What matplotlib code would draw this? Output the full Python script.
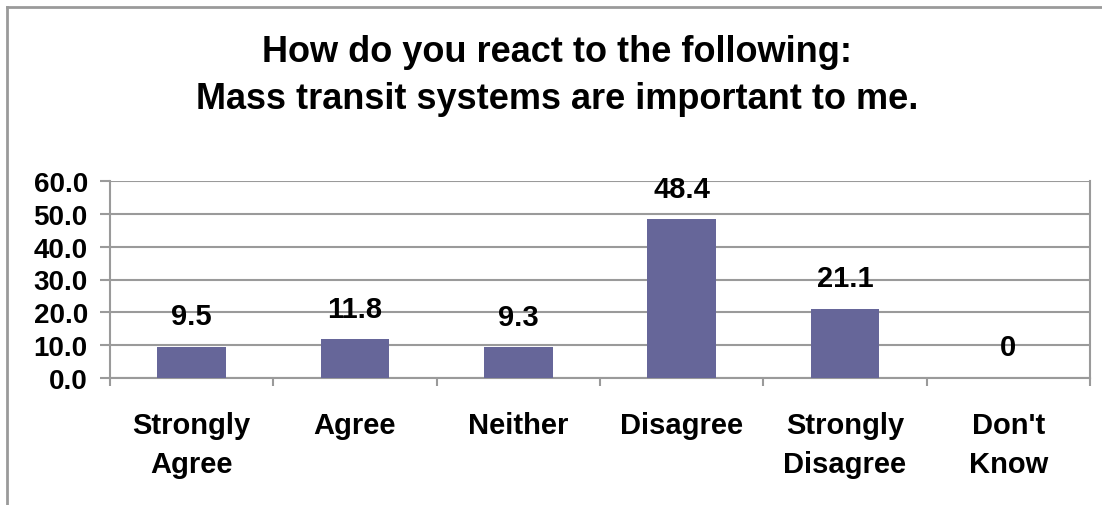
import matplotlib
matplotlib.use("Agg")
import matplotlib.pyplot as plt
from matplotlib.lines import Line2D

categories = ["Strongly\nAgree", "Agree", "Neither", "Disagree", "Strongly\nDisagree", "Don't\nKnow"]
values = [9.5, 11.8, 9.3, 48.4, 21.1, 0]
value_labels = ["9.5", "11.8", "9.3", "48.4", "21.1", "0"]
yticks = [0, 10, 20, 30, 40, 50, 60]
title = "How do you react to the following:\nMass transit systems are important to me."

plt.rcParams['font.family'] = ['Liberation Sans', 'DejaVu Sans']

W, H = 1102, 506
fig = plt.figure(figsize=(W / 100, H / 100), dpi=100)
ax = fig.add_axes([110 / W, 1 - 379 / H, (1090 - 110) / W, (379 - 182) / H])

gray = "#9a9a9a"
x = list(range(len(categories)))
ax.bar(x, values, width=0.42, color="#666699", zorder=3)
ax.set_xlim(-0.5, len(categories) - 0.5)
ax.set_ylim(0, 60)
ax.set_yticks(yticks)
ax.set_yticklabels([f"{v:.1f}" for v in yticks], fontsize=20, fontweight="bold")
ax.yaxis.grid(True, color=gray, linewidth=1.5, zorder=0)
ax.set_xticks(x)
ax.set_xticklabels(categories, fontsize=21, fontweight="bold", linespacing=1.48)
ax.tick_params(axis="x", length=0, pad=24)
ax.tick_params(axis="y", length=7, width=1.5, color=gray, pad=9)
# category boundary ticks
ax.set_xticks([i - 0.5 for i in range(len(categories) + 1)], minor=True)
ax.tick_params(axis="x", which="minor", length=6, width=1.5, color=gray)
for s in ax.spines.values():
    s.set_color(gray)
    s.set_linewidth(1.5)
ax.spines["top"].set_visible(False)

for xi, v, lab in zip(x, values, value_labels):
    ax.annotate(lab, (xi, v), xytext=(0, 22), textcoords="offset points",
                ha="center", va="center", fontsize=21, fontweight="bold", zorder=4)

fig.text(557 / W, 1 - 76 / H, title, ha="center", va="center",
         fontsize=26, fontweight="bold", linespacing=1.48)

# outer frame (left and top only)
fig.add_artist(Line2D([6.5 / W, 6.5 / W], [0, 1 - 7.5 / H], transform=fig.transFigure, color=gray, linewidth=2))
fig.add_artist(Line2D([6.5 / W, 1], [1 - 7.5 / H, 1 - 7.5 / H], transform=fig.transFigure, color=gray, linewidth=2))

fig.savefig("out.png", dpi=100)
